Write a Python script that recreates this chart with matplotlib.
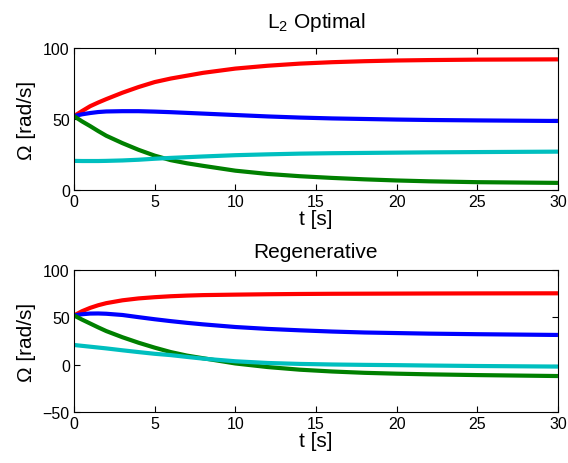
import numpy as np
import matplotlib
matplotlib.use("Agg")
import matplotlib.pyplot as plt

plt.rcParams['font.family'] = ['Liberation Sans', 'DejaVu Sans']
plt.rcParams['mathtext.fontset'] = 'custom'
plt.rcParams['mathtext.rm'] = 'Liberation Sans'

# tempo [s]
t = [0, 0.5, 1, 1.5, 2, 3, 4, 5, 6, 7, 8, 10, 12, 14, 16, 18, 20, 22, 25, 30]

# L2 optimal
opt_red = [52, 55.6, 59, 61.6, 64, 68.5, 72.5, 76, 78.5, 80.5, 82.5, 85.5, 87.5, 89, 90, 90.7, 91.2, 91.5, 91.8, 92]
opt_blue = [52, 53.3, 54.2, 54.9, 55.3, 55.5, 55.5, 55.2, 54.8, 54.3, 53.8, 52.8, 51.8, 51, 50.4, 50, 49.6, 49.3, 49, 48.6]
opt_green = [52, 48.3, 45, 41.5, 38.2, 33, 28.3, 24.2, 21, 18.8, 17, 13.6, 11.3, 9.7, 8.5, 7.5, 6.7, 6.1, 5.5, 5]
opt_cyan = [20.5, 20.4, 20.4, 20.4, 20.5, 20.8, 21.3, 22, 22.6, 23.1, 23.6, 24.5, 25.1, 25.6, 25.9, 26.1, 26.3, 26.5, 26.7, 27]

# regenerative
reg_red = [52, 56.5, 60, 62.8, 65, 68, 70, 71.3, 72.3, 73, 73.5, 74, 74.4, 74.7, 74.9, 75, 75.1, 75.2, 75.3, 75.4]
reg_blue = [52, 53.3, 54, 54.1, 53.8, 52.5, 50.2, 48, 46, 44.2, 42.6, 39.8, 37.8, 36.3, 35, 34, 33.4, 32.8, 32.2, 31.4]
reg_green = [52, 47.6, 43.5, 39.4, 35.5, 29, 23.2, 18, 13.3, 9.6, 6.8, 1.3, -2.5, -5.3, -7.2, -8.6, -9.5, -10.2, -11, -12]
reg_cyan = [20.8, 19.9, 19, 18.1, 17.2, 15.2, 13.3, 11.5, 10.1, 8.2, 6.4, 3.6, 1.8, 0.8, 0.2, -0.2, -0.5, -0.9, -1.4, -2]

colors = ['#ff0000', '#0000ff', '#008000', '#00bfbf']

fig = plt.figure(figsize=(5.68, 4.64), dpi=100)
ax1 = fig.add_axes([0.1303, 0.5884, 0.852, 0.306])
ax2 = fig.add_axes([0.1303, 0.1099, 0.852, 0.306])

panels = [
    (ax1, [opt_red, opt_blue, opt_green, opt_cyan], r'$\mathregular{L_2}$ Optimal', (0, 100), [0, 50, 100], 15),
    (ax2, [reg_red, reg_blue, reg_green, reg_cyan], 'Regenerative', (-50, 100), [-50, 0, 50, 100], 9.5),
]

for ax, series, title, ylim, yticks, tpad in panels:
    for y, c in zip(series, colors):
        ax.plot(t, y, color=c, lw=3, solid_capstyle='butt')
    ax.set_xlim(0, 30)
    ax.set_ylim(*ylim)
    ax.set_xticks([0, 5, 10, 15, 20, 25, 30])
    ax.set_yticks(yticks)
    ax.set_yticklabels([str(v).replace('-', '\u2212') for v in yticks])
    ax.tick_params(direction='in', length=4, width=0.8, labelsize=11.5,
                   top=True, right=True, pad=3)
    for s in ax.spines.values():
        s.set_linewidth(0.8)
    ax.set_xlabel('t [s]', fontsize=15, labelpad=0)
    ax.set_ylabel('\u03a9 [rad/s]', fontsize=15, labelpad=5)
    ax.set_title(title, fontsize=15, pad=tpad)

fig.savefig('out.png', dpi=100)
